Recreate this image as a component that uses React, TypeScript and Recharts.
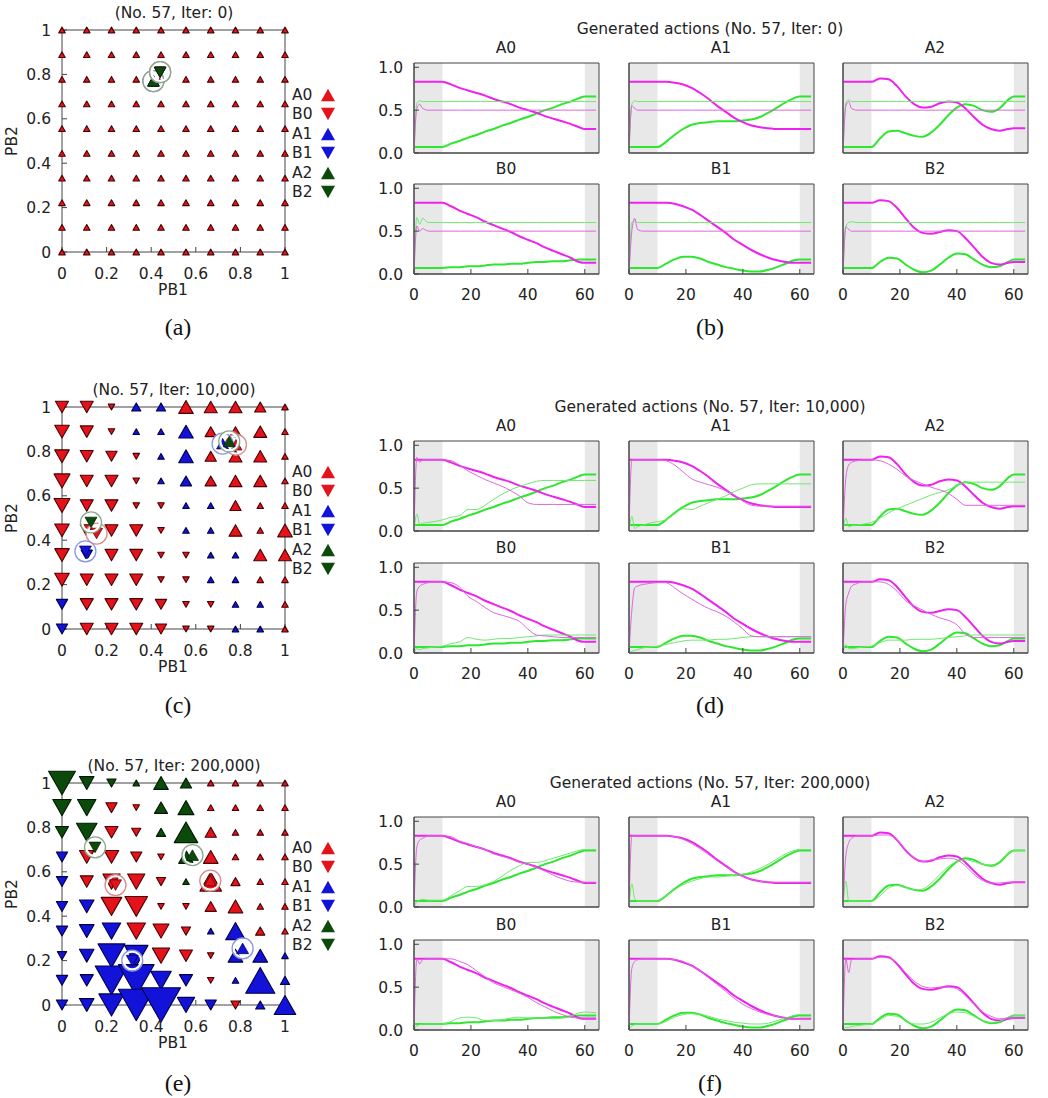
import React from 'react';
import { ScatterChart, Scatter, XAxis, YAxis, ZAxis, LineChart, Line, ReferenceArea } from 'recharts';

const FONT = '"DejaVu Sans", sans-serif';

// ---- policy maps (PB1 x PB2 grid) ----
const pbGrid = [0, 0.111, 0.222, 0.333, 0.444, 0.556, 0.667, 0.778, 0.889, 1];
const pbTicks = [0, 0.2, 0.4, 0.6, 0.8, 1];
const legendKinds = ['A0', 'B0', 'A1', 'B1', 'A2', 'B2'];

// rows go from PB2 = 1 (top) down to PB2 = 0
const iter0Kinds = [
  'A0 A0 A0 A0 A0 A0 A0 A0 A0 A0',
  'A0 A0 A0 A0 A0 A0 A0 A0 A0 A0',
  'A0 A0 A0 A0 A0 A0 A0 A0 A0 A0',
  'A0 A0 A0 A0 A0 A0 A0 A0 A0 A0',
  'A0 A0 A0 A0 A0 A0 A0 A0 A0 A0',
  'A0 A0 A0 A0 A0 A0 A0 A0 A0 A0',
  'A0 A0 A0 A0 A0 A0 A0 A0 A0 A0',
  'A0 A0 A0 A0 A0 A0 A0 A0 A0 A0',
  'A0 A0 A0 A0 A0 A0 A0 A0 A0 A0',
  'A0 A0 A0 A0 A0 A0 A0 A0 A0 A0',
];
const iter0Counts = [
  [1, 1, 1, 1, 1, 1, 1, 1, 1, 1],
  [1, 1, 1, 1, 1, 1, 1, 1, 1, 1],
  [1, 1, 1, 1, 1, 1, 1, 1, 1, 1],
  [1, 1, 1, 1, 1, 1, 1, 1, 1, 1],
  [1, 1, 1, 1, 1, 1, 1, 1, 1, 1],
  [1, 1, 1, 1, 1, 1, 1, 1, 1, 1],
  [1, 1, 1, 1, 1, 1, 1, 1, 1, 1],
  [1, 1, 1, 1, 1, 1, 1, 1, 1, 1],
  [1, 1, 1, 1, 1, 1, 1, 1, 1, 1],
  [1, 1, 1, 1, 1, 1, 1, 1, 1, 1],
];
const iter0Picks = [
  { pb1: 0.41, pb2: 0.77, kind: 'A0' }, { pb1: 0.41, pb2: 0.77, kind: 'A1' }, { pb1: 0.41, pb2: 0.77, kind: 'A2' },
  { pb1: 0.44, pb2: 0.81, kind: 'B1' }, { pb1: 0.44, pb2: 0.81, kind: 'B0' }, { pb1: 0.44, pb2: 0.81, kind: 'B2' },
];

const iter10kKinds = [
  'B0 B0 B0 A1 A1 A0 A0 A0 A0 A0',
  'B0 B0 B0 A1 A1 A1 A0 A0 A0 A0',
  'B0 B0 B0 B0 A1 A1 A0 A0 A0 A0',
  'B0 B0 B0 B0 A1 A1 A0 A0 A0 A0',
  'B0 B0 B0 B0 B0 A1 A1 A0 A0 A0',
  'B0 B0 B0 B0 B0 A1 A1 A0 A0 A0',
  'B0 B1 B0 B0 B0 B0 A1 A1 A0 A0',
  'B0 B0 B0 B0 B0 B0 A1 A1 A0 A0',
  'B1 B0 B0 B0 B0 B0 B0 A1 A1 A0',
  'B1 B0 B0 B0 B0 B0 B0 A1 A1 A0',
];
const iter10kCounts = [
  [4, 4, 1, 2, 2, 5, 4, 4, 3, 1],
  [5, 4, 1, 1, 1, 5, 3, 3, 4, 1],
  [5, 4, 3, 1, 1, 5, 3, 4, 4, 1],
  [6, 4, 4, 1, 1, 3, 3, 4, 4, 1],
  [6, 4, 4, 1, 1, 1, 1, 3, 1, 1],
  [5, 4, 4, 4, 1, 1, 1, 4, 1, 5],
  [5, 3, 4, 4, 1, 1, 1, 1, 4, 4],
  [5, 4, 4, 4, 1, 1, 1, 1, 1, 1],
  [3, 4, 4, 4, 3, 1, 1, 1, 1, 1],
  [3, 4, 4, 4, 3, 1, 1, 1, 1, 1],
];
const iter10kPicks = [
  { pb1: 0.78, pb2: 0.83, kind: 'A0' }, { pb1: 0.72, pb2: 0.835, kind: 'A1' }, { pb1: 0.75, pb2: 0.845, kind: 'A2' },
  { pb1: 0.155, pb2: 0.43, kind: 'B0' }, { pb1: 0.105, pb2: 0.35, kind: 'B1' }, { pb1: 0.13, pb2: 0.48, kind: 'B2' },
];

const iter200kKinds = [
  'B2 B2 B2 A2 A2 A2 A0 A0 A0 A0',
  'B2 B2 B0 B0 A2 A2 A0 A0 A0 A0',
  'B2 B2 B0 B0 A2 A2 A0 A0 A0 A0',
  'B1 B0 B0 B0 B0 A2 A0 A0 A0 A0',
  'B1 B0 B0 B0 B0 A2 A0 A0 A0 A0',
  'B1 B1 B0 B0 B0 B0 A0 A0 A0 A0',
  'B1 B1 B1 B0 B0 B0 A1 A1 A0 A0',
  'B1 B1 B1 B1 B0 B0 B0 A1 A1 A1',
  'B1 B1 B1 B1 B1 B1 B0 A1 A1 A1',
  'B1 B1 B1 B1 B1 B1 B1 B0 A1 A1',
];
const iter200kCounts = [
  [17, 5, 2, 1, 5, 3, 1, 1, 1, 1],
  [8, 8, 3, 1, 4, 6, 1, 1, 1, 1],
  [4, 10, 4, 2, 2, 13, 3, 1, 1, 1],
  [3, 5, 5, 3, 1, 5, 5, 1, 1, 1],
  [3, 4, 7, 7, 2, 1, 11, 2, 1, 1],
  [3, 5, 10, 12, 1, 1, 3, 5, 1, 1],
  [3, 5, 8, 8, 6, 2, 1, 9, 2, 1],
  [2, 5, 17, 13, 7, 4, 1, 5, 5, 1],
  [3, 4, 25, 30, 10, 4, 1, 1, 20, 2],
  [3, 5, 15, 30, 36, 7, 3, 2, 2, 11],
];
const iter200kPicks = [
  { pb1: 0.665, pb2: 0.56, kind: 'A0' }, { pb1: 0.81, pb2: 0.255, kind: 'A1' }, { pb1: 0.585, pb2: 0.675, kind: 'A2' },
  { pb1: 0.24, pb2: 0.54, kind: 'B0' }, { pb1: 0.315, pb2: 0.2, kind: 'B1' }, { pb1: 0.148, pb2: 0.71, kind: 'B2' },
];

// ---- generated action trajectories ----
const timeSteps = [0, 1, 2, 3, 5, 7, 10, 13, 16, 19, 22, 25, 28, 31, 34, 37, 40, 43, 46, 49, 52, 55, 58, 60, 64];
const actionNames = ['A0', 'A1', 'A2', 'B0', 'B1', 'B2'];

const targetMag = [
  [.83, .83, .83, .83, .83, .83, .83, .80, .76, .73, .70, .67, .63, .60, .57, .53, .50, .47, .43, .40, .37, .34, .30, .28, .28],
  [.83, .83, .83, .83, .83, .83, .83, .83, .82, .80, .76, .70, .63, .55, .48, .41, .36, .32, .30, .29, .28, .28, .28, .28, .28],
  [.83, .83, .83, .83, .83, .83, .83, .87, .86, .78, .66, .57, .53, .54, .58, .60, .59, .52, .42, .33, .28, .26, .28, .29, .29],
  [.83, .83, .83, .83, .83, .83, .83, .79, .74, .70, .66, .61, .57, .53, .49, .44, .40, .36, .31, .27, .23, .19, .14, .13, .13],
  [.83, .83, .83, .83, .83, .83, .83, .83, .82, .79, .75, .69, .62, .55, .48, .40, .34, .28, .23, .19, .16, .14, .13, .13, .13],
  [.83, .83, .83, .83, .83, .83, .83, .86, .85, .77, .65, .54, .48, .47, .49, .51, .50, .42, .31, .20, .13, .11, .13, .14, .14],
];
const targetGrn = [
  [.07, .07, .07, .07, .07, .07, .07, .11, .14, .18, .21, .25, .28, .32, .35, .39, .42, .46, .50, .53, .57, .60, .64, .66, .66],
  [.07, .07, .07, .07, .07, .07, .07, .13, .21, .28, .33, .35, .36, .37, .37, .37, .38, .39, .42, .47, .53, .59, .64, .66, .66],
  [.07, .07, .07, .07, .07, .07, .07, .17, .25, .26, .23, .20, .19, .24, .33, .44, .53, .57, .55, .50, .48, .52, .62, .66, .66],
  [.07, .07, .07, .07, .07, .07, .07, .08, .08, .09, .09, .10, .11, .11, .12, .12, .13, .14, .14, .15, .15, .16, .17, .17, .17],
  [.07, .07, .07, .07, .07, .07, .07, .12, .17, .20, .20, .18, .14, .11, .08, .06, .04, .03, .03, .05, .08, .12, .16, .17, .17],
  [.07, .07, .07, .07, .07, .07, .07, .14, .19, .18, .11, .05, .02, .04, .11, .19, .24, .23, .17, .11, .08, .09, .14, .17, .17],
];

const iter0Mag = [
  [0, .52, .57, .52, .50, .50, .50, .50, .50, .50, .50, .50, .50, .50, .50, .50, .50, .50, .50, .50, .50, .50, .50, .50, .50],
  [0, .55, .52, .50, .50, .50, .50, .50, .50, .50, .50, .50, .50, .50, .50, .50, .50, .50, .50, .50, .50, .50, .50, .50, .50],
  [0, .55, .60, .52, .50, .50, .50, .50, .50, .50, .50, .50, .50, .50, .50, .50, .50, .50, .50, .50, .50, .50, .50, .50, .50],
  [0, .56, .50, .53, .50, .50, .50, .50, .50, .50, .50, .50, .50, .50, .50, .50, .50, .50, .50, .50, .50, .50, .50, .50, .50],
  [0, .50, .65, .52, .50, .50, .50, .50, .50, .50, .50, .50, .50, .50, .50, .50, .50, .50, .50, .50, .50, .50, .50, .50, .50],
  [0, .55, .52, .50, .50, .50, .50, .50, .50, .50, .50, .50, .50, .50, .50, .50, .50, .50, .50, .50, .50, .50, .50, .50, .50],
];
const iter0Grn = [
  [0, .58, .61, .60, .60, .60, .60, .60, .60, .60, .60, .60, .60, .60, .60, .60, .60, .60, .60, .60, .60, .60, .60, .60, .60],
  [0, .57, .61, .60, .60, .60, .60, .60, .60, .60, .60, .60, .60, .60, .60, .60, .60, .60, .60, .60, .60, .60, .60, .60, .60],
  [0, .58, .62, .60, .60, .60, .60, .60, .60, .60, .60, .60, .60, .60, .60, .60, .60, .60, .60, .60, .60, .60, .60, .60, .60],
  [0, .66, .58, .65, .60, .60, .60, .60, .60, .60, .60, .60, .60, .60, .60, .60, .60, .60, .60, .60, .60, .60, .60, .60, .60],
  [0, .60, .62, .60, .60, .60, .60, .60, .60, .60, .60, .60, .60, .60, .60, .60, .60, .60, .60, .60, .60, .60, .60, .60, .60],
  [0, .55, .60, .61, .60, .60, .60, .60, .60, .60, .60, .60, .60, .60, .60, .60, .60, .60, .60, .60, .60, .60, .60, .60, .60],
];

const iter10kMag = [
  [0, .86, .80, .83, .83, .83, .83, .82, .77, .70, .65, .60, .56, .52, .47, .41, .33, .31, .31, .31, .31, .31, .31, .31, .31],
  [0, .83, .83, .83, .83, .83, .83, .82, .77, .69, .61, .57, .54, .51, .47, .42, .35, .30, .29, .29, .29, .29, .29, .29, .29],
  [0, .62, .77, .80, .82, .83, .83, .82, .78, .72, .64, .59, .55, .51, .48, .44, .37, .30, .30, .30, .30, .30, .30, .30, .30],
  [0, .72, .78, .80, .82, .83, .83, .82, .77, .66, .60, .53, .47, .44, .41, .37, .28, .21, .20, .19, .18, .18, .18, .18, .18],
  [0, .50, .76, .78, .80, .81, .82, .82, .76, .69, .63, .57, .52, .48, .43, .36, .28, .20, .19, .19, .19, .19, .19, .19, .19],
  [0, .57, .70, .78, .81, .83, .83, .83, .80, .72, .61, .55, .50, .45, .41, .38, .33, .22, .18, .18, .18, .18, .18, .18, .18],
];
const iter10kGrn = [
  [0, .20, .08, .09, .10, .11, .13, .16, .18, .25, .25, .30, .37, .43, .48, .52, .55, .58, .59, .59, .59, .59, .59, .59, .59],
  [0, .17, .03, .05, .07, .09, .11, .13, .20, .26, .25, .29, .33, .37, .41, .46, .50, .54, .55, .55, .55, .55, .55, .55, .55],
  [0, .15, .05, .06, .07, .08, .10, .15, .21, .26, .30, .34, .38, .42, .45, .48, .53, .57, .57, .57, .57, .57, .57, .57, .57],
  [0, .05, .04, .05, .06, .07, .08, .11, .13, .18, .16, .15, .16, .17, .17, .18, .19, .20, .21, .21, .21, .21, .21, .21, .21],
  [0, .02, .03, .04, .06, .07, .08, .10, .12, .14, .15, .15, .15, .16, .16, .17, .18, .19, .19, .19, .19, .19, .19, .19, .19],
  [0, .10, .05, .05, .06, .07, .08, .12, .15, .15, .15, .16, .16, .16, .17, .18, .19, .20, .21, .21, .21, .21, .21, .21, .21],
];

const iter200kMag = [
  [0, .70, .78, .80, .83, .83, .83, .82, .77, .74, .70, .67, .62, .59, .56, .52, .50, .46, .42, .37, .33, .30, .29, .29, .29],
  [0, .83, .83, .83, .83, .83, .83, .83, .82, .79, .74, .68, .61, .54, .47, .41, .36, .32, .30, .29, .29, .29, .29, .29, .29],
  [0, .60, .75, .80, .83, .83, .83, .84, .84, .78, .67, .57, .53, .55, .56, .57, .55, .48, .38, .31, .28, .28, .29, .29, .29],
  [0, .83, .77, .82, .83, .83, .83, .83, .80, .76, .69, .62, .55, .51, .47, .43, .38, .32, .27, .22, .18, .15, .14, .14, .14],
  [0, .72, .80, .82, .83, .83, .83, .83, .82, .80, .75, .69, .61, .53, .45, .37, .30, .25, .21, .18, .16, .14, .13, .13, .13],
  [0, .83, .67, .82, .83, .83, .83, .85, .84, .78, .67, .57, .51, .49, .50, .50, .48, .40, .30, .21, .16, .13, .14, .14, .14],
];
const iter200kGrn = [
  [0, .06, .08, .09, .08, .08, .08, .13, .19, .24, .24, .26, .30, .36, .43, .48, .52, .52, .54, .57, .60, .63, .66, .67, .67],
  [0, .27, .10, .07, .07, .07, .07, .13, .20, .26, .30, .33, .35, .35, .36, .37, .38, .41, .45, .50, .56, .62, .66, .67, .67],
  [0, .30, .07, .07, .07, .07, .07, .13, .22, .25, .23, .20, .21, .28, .38, .47, .53, .55, .53, .50, .49, .53, .62, .66, .66],
  [0, .05, .06, .07, .07, .07, .07, .10, .14, .15, .14, .11, .11, .12, .14, .15, .14, .14, .14, .13, .14, .16, .20, .21, .20],
  [0, .05, .06, .07, .07, .07, .07, .10, .15, .18, .19, .18, .16, .13, .11, .09, .08, .07, .07, .08, .11, .14, .17, .18, .18],
  [0, .03, .03, .04, .05, .06, .07, .12, .17, .16, .11, .07, .07, .09, .14, .19, .21, .20, .16, .11, .09, .10, .15, .17, .17],
];

// ---- styling ----
const fillOf: Record<string, string> = { '0': '#e3121b', '1': '#1212d8', '2': '#0b4a0b' };
const edgeOf: Record<string, string> = { '0': '#4a0000', '1': '#00004a', '2': '#001a00' };
const ringOf: Record<string, string> = { '0': '#d88c8c', '1': '#8c96dc', '2': '#8ea88e' };

const triPath = (cx: number, cy: number, s: number, down: boolean) => {
  const h = s * 0.88;
  return down
    ? `M${cx - s / 2},${cy - h / 2}L${cx + s / 2},${cy - h / 2}L${cx},${cy + h / 2}Z`
    : `M${cx},${cy - h / 2}L${cx + s / 2},${cy + h / 2}L${cx - s / 2},${cy + h / 2}Z`;
};

const GridMark = (p: any) => {
  const k: string = p.payload.kind;
  return (
    <path d={triPath(p.cx, p.cy, p.width, k[0] === 'B')} fill={fillOf[k[1]]} stroke={edgeOf[k[1]]}
      strokeWidth={1.1} strokeLinejoin="round" />
  );
};

const PickMark = (p: any) => {
  const k: string = p.payload.kind;
  return (
    <g>
      <circle cx={p.cx} cy={p.cy} r={9} fill="none" stroke="#fff" strokeWidth={2.5} />
      <circle cx={p.cx} cy={p.cy} r={10.5} fill="none" stroke={ringOf[k[1]]} strokeWidth={1.3} />
      <path d={triPath(p.cx, p.cy, 12, k[0] === 'B')} fill={fillOf[k[1]]} stroke={edgeOf[k[1]]} strokeWidth={0.7} />
    </g>
  );
};

const buildGrid = (kinds: string[], counts: number[][]) =>
  kinds.flatMap((row, r) =>
    row.split(' ').map((kind, c) => ({ pb1: pbGrid[c], pb2: pbGrid[9 - r], kind, n: counts[r][c] }))
  );

const centered = (x: number, y: number, extra: React.CSSProperties = {}): React.CSSProperties => ({
  position: 'absolute', left: x, top: y, transform: 'translate(-50%, -50%)', whiteSpace: 'nowrap', ...extra,
});

const axisTick = { fontSize: 15.5, fill: '#222', fontFamily: FONT };
const titleText = { fontSize: 15.5, fontFamily: FONT, color: '#222' };

const PolicyMap = ({ plotTop, title, kinds, counts, picks }: any) => {
  const data = buildGrid(kinds, counts);
  return (
    <>
      <div style={centered(174, plotTop - 17, titleText)}>{title}</div>
      <div style={{ position: 'absolute', left: 0, top: plotTop - 30 }}>
        <ScatterChart width={345} height={300} margin={{ top: 29, right: 59, bottom: 0, left: 22 }}>
          <XAxis xAxisId="b" dataKey="pb1" type="number" domain={[0, 1]} ticks={pbTicks} interval={0}
            tickSize={-5} tickMargin={21} height={48} stroke="#444" tick={axisTick} />
          <XAxis xAxisId="t" orientation="top" dataKey="pb1" type="number" domain={[0, 1]} ticks={pbTicks}
            interval={0} tickSize={-5} height={1} stroke="#444" tick={false} />
          <YAxis yAxisId="l" dataKey="pb2" type="number" domain={[0, 1]} ticks={pbTicks} interval={0}
            tickSize={-5} tickMargin={16} width={40} stroke="#444" tick={axisTick} />
          <YAxis yAxisId="r" orientation="right" dataKey="pb2" type="number" domain={[0, 1]} ticks={pbTicks}
            interval={0} tickSize={-5} width={1} stroke="#444" tick={false} />
          <ZAxis dataKey="n" type="number" domain={[0, 36]} range={[0, 1200]} />
          <Scatter xAxisId="b" yAxisId="l" data={data} shape={GridMark} isAnimationActive={false} />
          <Scatter xAxisId="b" yAxisId="l" data={picks} shape={PickMark} isAnimationActive={false} />
        </ScatterChart>
      </div>
      <div style={centered(173, plotTop + 260, titleText)}>PB1</div>
      <div style={centered(12, plotTop + 111, { ...titleText, transform: 'translate(-50%, -50%) rotate(-90deg)' })}>PB2</div>
      {legendKinds.map((k, i) => (
        <div key={k} style={{ position: 'absolute', left: 292, top: plotTop + 55 + i * 19.5, height: 19, display: 'flex', alignItems: 'center', ...titleText }}>
          <span style={{ width: 28 }}>{k}</span>
          <svg width={16} height={16}>
            <path d={triPath(8, 8, 14, k[0] === 'B')} fill={fillOf[k[1]]} />
          </svg>
        </div>
      ))}
    </>
  );
};

const colLefts = [414, 629, 843];
const magThick = '#ee22ee';
const grnThick = '#2ee62e';
const magThin = '#dd66dd';
const grnThin = '#6ee86e';

const ActionPanel = ({ left, top, title, showX, showY, tMag, tGrn, gMag, gGrn }: any) => {
  const data = timeSteps.map((t, i) => ({ t, tm: tMag[i], tg: tGrn[i], gm: gMag[i], gg: gGrn[i] }));
  return (
    <>
      <div style={centered(left + 92, top - 15, titleText)}>{title}</div>
      <div style={{ position: 'absolute', left: left - 40, top: top - 6 }}>
        <LineChart width={230} height={130} data={data} margin={{ top: 6, right: 5, bottom: 0, left: 0 }}>
          <XAxis dataKey="t" type="number" domain={[0, 65]} ticks={[0, 20, 40, 60]} interval={0}
            tickSize={-5} tickMargin={20} height={34} stroke="#444" tick={showX ? axisTick : false} allowDataOverflow />
          <YAxis type="number" domain={[0, 1.05]} ticks={[0, 0.5, 1]} interval={0} tickFormatter={(v: number) => v.toFixed(1)}
            tickSize={-5} tickMargin={16} width={40} stroke="#444" tick={showY ? axisTick : false} allowDataOverflow />
          <ReferenceArea x1={0} x2={10} y1={0} y2={1.05} fill="#e8e8e8" fillOpacity={1} stroke="none" />
          <ReferenceArea x1={60} x2={65} y1={0} y2={1.05} fill="#e8e8e8" fillOpacity={1} stroke="none" />
          <Line dataKey="tg" type="monotone" stroke={grnThick} strokeWidth={2} dot={false} isAnimationActive={false} />
          <Line dataKey="tm" type="monotone" stroke={magThick} strokeWidth={2} dot={false} isAnimationActive={false} />
          <Line dataKey="gg" type="monotone" stroke={grnThin} strokeWidth={1} dot={false} isAnimationActive={false} />
          <Line dataKey="gm" type="monotone" stroke={magThin} strokeWidth={1} dot={false} isAnimationActive={false} />
          <ReferenceArea x1={0} x2={65} y1={0} y2={1.05} fill="none" fillOpacity={0} stroke="#444" strokeWidth={1} />
        </LineChart>
      </div>
    </>
  );
};

const ActionGrid = ({ tops, title, gMag, gGrn }: any) => (
  <>
    <div style={centered(710, tops[0] - 34, titleText)}>{title}</div>
    {actionNames.map((name, i) => (
      <ActionPanel key={name} left={colLefts[i % 3]} top={tops[Math.floor(i / 3)]} title={name}
        showX={i >= 3} showY={i % 3 === 0} tMag={targetMag[i]} tGrn={targetGrn[i]} gMag={gMag[i]} gGrn={gGrn[i]} />
    ))}
  </>
);

const Caption = ({ x, y, text }: any) => (
  <div style={centered(x, y, { fontSize: 24, fontFamily: '"Liberation Serif", "DejaVu Serif", serif', color: '#111' })}>{text}</div>
);

export default function App() {
  return (
    <div style={{ position: 'relative', width: 1048, height: 1098, background: '#fff', overflow: 'hidden' }}>
      <style>{'body{margin:0}'}</style>
      <PolicyMap plotTop={30} title="(No. 57, Iter: 0)" kinds={iter0Kinds} counts={iter0Counts} picks={iter0Picks} />
      <PolicyMap plotTop={407} title="(No. 57, Iter: 10,000)" kinds={iter10kKinds} counts={iter10kCounts} picks={iter10kPicks} />
      <PolicyMap plotTop={783} title="(No. 57, Iter: 200,000)" kinds={iter200kKinds} counts={iter200kCounts} picks={iter200kPicks} />
      <ActionGrid tops={[63, 184]} title="Generated actions (No. 57, Iter: 0)" gMag={iter0Mag} gGrn={iter0Grn} />
      <ActionGrid tops={[441, 563]} title="Generated actions (No. 57, Iter: 10,000)" gMag={iter10kMag} gGrn={iter10kGrn} />
      <ActionGrid tops={[817, 940]} title="Generated actions (No. 57, Iter: 200,000)" gMag={iter200kMag} gGrn={iter200kGrn} />
      <Caption x={178} y={327} text="(a)" />
      <Caption x={710} y={327} text="(b)" />
      <Caption x={178} y={705} text="(c)" />
      <Caption x={710} y={705} text="(d)" />
      <Caption x={178} y={1083} text="(e)" />
      <Caption x={710} y={1083} text="(f)" />
    </div>
  );
}
